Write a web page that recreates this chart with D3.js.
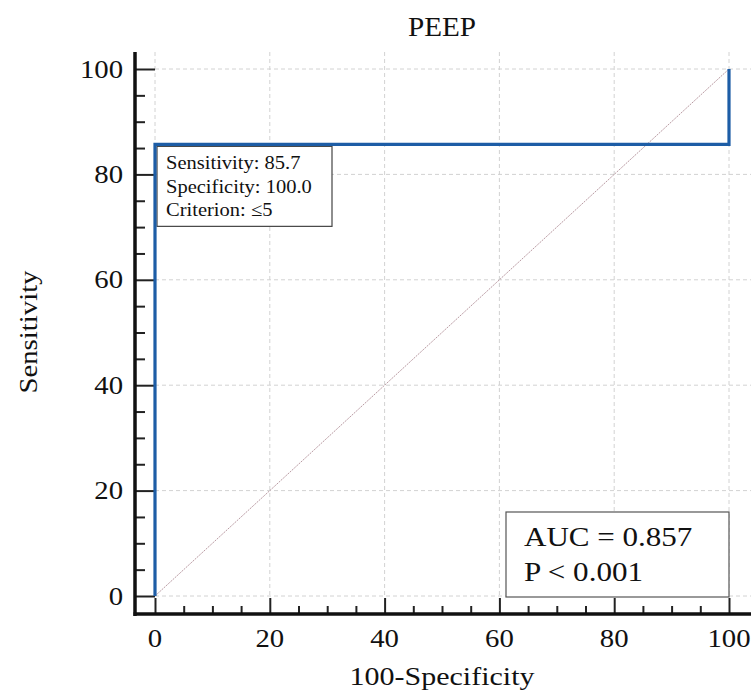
<!DOCTYPE html>
<html>
<head>
<meta charset="utf-8">
<script src="https://cdn.jsdelivr.net/npm/d3@7"></script>
<style>
  body { margin: 0; background: #fff; }
  text { font-family: "Liberation Serif", "Times New Roman", serif; fill: #111; }
</style>
</head>
<body>
<svg id="chart" width="753" height="695"></svg>
<script>
// ROC curve data
const specComplement = [0, 0, 100, 100];
const sensitivity = [0, 85.7, 85.7, 100];
const refLine = [0, 100];

const xTicks = [0, 20, 40, 60, 80, 100];
const yTicks = [0, 20, 40, 60, 80, 100];
const minorStep = 5;

const chartTitle = "PEEP";
const xTitle = "100-Specificity";
const yTitle = "Sensitivity";
const cutoffLines = ["Sensitivity: 85.7", "Specificity: 100.0", "Criterion: \u22645"];
const cutoffPoint = [0, 85.7];
const statLines = ["AUC = 0.857", "P < 0.001"];

const svg = d3.select("#chart");

const xScale = d3.scaleLinear().domain([0, 100]).range([155, 729]);
const yScale = d3.scaleLinear().domain([0, 100]).range([596, 69]);

const axisX = 135, axisY = 614, plotTop = 52, plotRight = 751;

// text helper, a bit wider than plain Times to match the picture
function label(x, y, str, size, anchor, sx, rot) {
  let g = svg.append("g")
    .attr("transform", "translate(" + x + "," + y + ")" + (rot ? " rotate(" + rot + ")" : "") + " scale(" + sx + ",1)");
  g.append("text")
    .attr("text-anchor", anchor)
    .attr("font-size", size)
    .text(str);
  return g;
}

// grid
svg.selectAll(".vgrid")
  .data(xTicks)
  .enter().append("line")
    .attr("x1", function(d) { return xScale(d); })
    .attr("x2", function(d) { return xScale(d); })
    .attr("y1", plotTop)
    .attr("y2", yScale(0))
    .attr("stroke", "#d2d2d2")
    .attr("stroke-dasharray", "4,3");

svg.selectAll(".hgrid")
  .data(yTicks)
  .enter().append("line")
    .attr("x1", xScale(0))
    .attr("x2", plotRight)
    .attr("y1", function(d) { return yScale(d); })
    .attr("y2", function(d) { return yScale(d); })
    .attr("stroke", "#d2d2d2")
    .attr("stroke-dasharray", "4,3");

// axes with inward ticks
const minorTicks = d3.range(0, 101, minorStep).filter(function(d) { return d % 20 !== 0; });

function styleTicks(g) {
  g.select(".domain").remove();
  g.selectAll("text").remove();
  g.selectAll("line").attr("stroke", "#222").attr("stroke-width", 2);
}

svg.append("g")
  .attr("transform", "translate(" + axisX + ",0)")
  .call(d3.axisLeft(yScale).tickValues(yTicks).tickSize(-(xScale(0) - axisX)))
  .call(styleTicks);
svg.append("g")
  .attr("transform", "translate(" + axisX + ",0)")
  .call(d3.axisLeft(yScale).tickValues(minorTicks).tickSize(-10))
  .call(styleTicks);

svg.append("g")
  .attr("transform", "translate(0," + axisY + ")")
  .call(d3.axisBottom(xScale).tickValues(xTicks).tickSize(-(axisY - yScale(0)) + 2))
  .call(styleTicks);
svg.append("g")
  .attr("transform", "translate(0," + axisY + ")")
  .call(d3.axisBottom(xScale).tickValues(minorTicks).tickSize(-8))
  .call(styleTicks);

svg.append("line")
  .attr("x1", axisX).attr("x2", axisX)
  .attr("y1", plotTop).attr("y2", axisY + 2)
  .attr("stroke", "#111").attr("stroke-width", 3.5);
svg.append("line")
  .attr("x1", axisX - 1.5).attr("x2", plotRight)
  .attr("y1", axisY).attr("y2", axisY)
  .attr("stroke", "#111").attr("stroke-width", 3.5);

// tick labels
xTicks.forEach(function(d) {
  label(xScale(d), 647, d, 25, "middle", 1.15);
});
yTicks.forEach(function(d) {
  label(123, yScale(d) + 8.5, d, 25, "end", 1.15);
});

// titles
label(442, 36, chartTitle, 27, "middle", 1.08);
label(442, 685, xTitle, 25, "middle", 1.2);
label(37, 332, yTitle, 25, "middle", 1.15, -90);

// reference diagonal
svg.append("line")
  .attr("x1", xScale(refLine[0])).attr("y1", yScale(refLine[0]))
  .attr("x2", xScale(refLine[1])).attr("y2", yScale(refLine[1]))
  .attr("stroke", "#b99aa2")
  .attr("stroke-width", 1)
  .attr("stroke-dasharray", "2,1");

// criterion box
let bx = xScale(cutoffPoint[0]) + 2, by = yScale(cutoffPoint[1]) + 2;
svg.append("rect")
  .attr("x", bx).attr("y", by)
  .attr("width", 175).attr("height", 80)
  .attr("fill", "#fff")
  .attr("stroke", "#444")
  .attr("stroke-width", 1.2);
cutoffLines.forEach(function(s, i) {
  label(bx + 9, by + 23 + i * 23.3, s, 19, "start", 1.08);
});

// AUC box
svg.append("rect")
  .attr("x", 506).attr("y", 512)
  .attr("width", 223).attr("height", 85)
  .attr("fill", "#fff")
  .attr("stroke", "#555")
  .attr("stroke-width", 1.2);
statLines.forEach(function(s, i) {
  label(524, 546 + i * 34.5, s, 27, "start", 1.15);
});

// ROC curve
let pts = specComplement.map(function(d, i) { return [d, sensitivity[i]]; });
svg.append("path")
  .datum(pts)
  .attr("fill", "none")
  .attr("stroke", "#1d5da6")
  .attr("stroke-width", 3.2)
  .attr("d", d3.line()
    .x(function(d) { return xScale(d[0]); })
    .y(function(d) { return yScale(d[1]); }));
</script>
</body>
</html>
